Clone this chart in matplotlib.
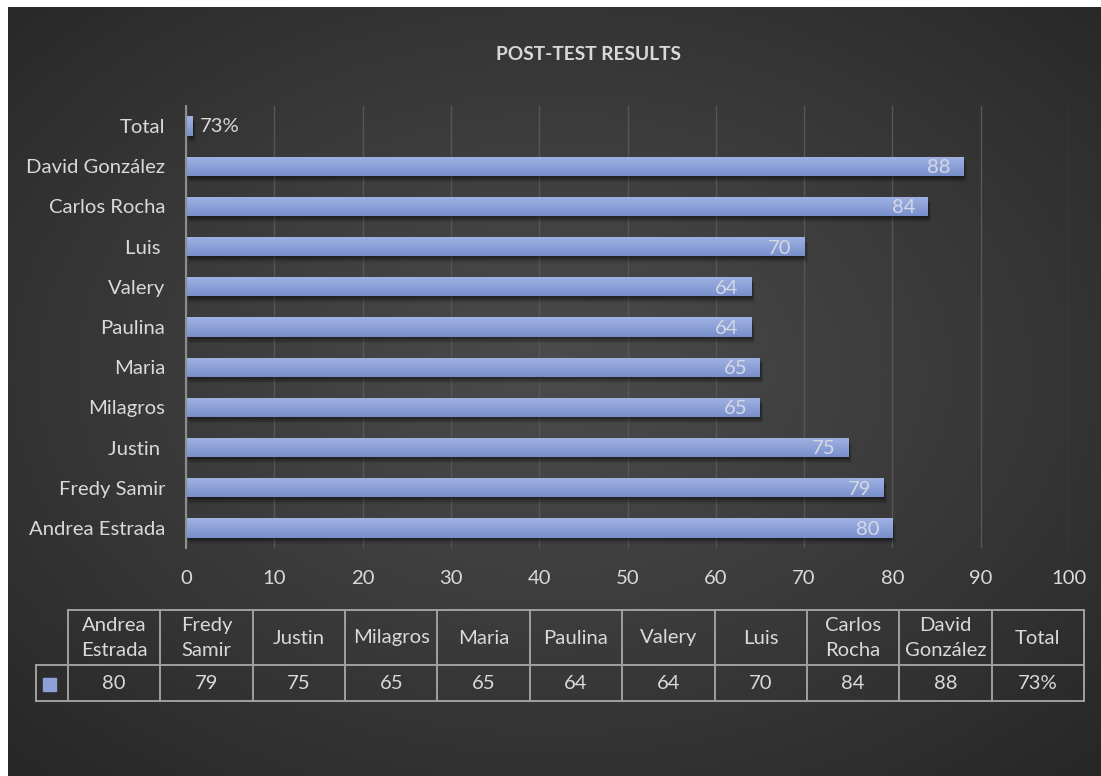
import numpy as np
import matplotlib
matplotlib.use("Agg")
import matplotlib.pyplot as plt
from matplotlib import patheffects as pe
from matplotlib.patches import Rectangle
from matplotlib.lines import Line2D

# ---- data -------------------------------------------------------------
axis_labels = ["Andrea Estrada", "Fredy Samir", "Justin ", "Milagros", "Maria",
               "Paulina", "Valery", "Luis ", "Carlos Rocha", "David González", "Total"]
table_headers = ["Andrea\nEstrada", "Fredy\nSamir", "Justin", "Milagros", "Maria",
                 "Paulina", "Valery", "Luis", "Carlos\nRocha", "David\nGonzález", "Total"]
scores = [80, 79, 75, 65, 65, 64, 64, 70, 84, 88, 0.73]
is_share = [False] * 10 + [True]
x_ticks = list(range(0, 101, 10))
title = "POST-TEST RESULTS"


def fmt(v, share):
    return f"{v:.0%}" if share else f"{v:g}"


value_labels = [fmt(v, s) for v, s in zip(scores, is_share)]

# ---- style ------------------------------------------------------------
FONT = ["Lato", "DejaVu Sans"]
plt.rcParams["font.family"] = FONT
TXT = "#d9d9d9"
BAR_TOP = np.array([0xa1, 0xb3, 0xe3]) / 255
BAR_BOT = np.array([0x79, 0x8f, 0xcc]) / 255
FS = 14.6

W, H = 1101, 776
fig = plt.figure(figsize=(W / 100, H / 100), dpi=100, facecolor="white")

# dark radial-gradient backdrop
bg = fig.add_axes([8 / W, 0, (W - 8) / W, (H - 7) / H], zorder=0)
gx, gy = np.meshgrid(np.linspace(-1, 1, 400), np.linspace(-1, 1, 300))
r = np.clip(np.sqrt((gx / 1.05) ** 2 + ((gy + 0.05) / 1.05) ** 2), 0, 1.4) / 1.4
lum = (0x4b - (0x4b - 0x26) * r ** 1.1) / 255
bg.imshow(np.dstack([lum, lum, lum]), extent=[0, 1, 0, 1], aspect="auto", interpolation="bicubic")
bg.set_axis_off()

# ---- bar chart ----------------------------------------------------------
ax = fig.add_axes([186 / W, 1 - 548 / H, 883 / W, 442 / H], zorder=2)
ax.set_facecolor("none")
ypos = np.arange(len(scores))
bars = ax.barh(ypos, scores, height=0.48, color=tuple((BAR_TOP + BAR_BOT) / 2), zorder=3)

grad = np.linspace(0, 1, 64)[:, None, None]
grad_img = BAR_TOP * (1 - grad) + BAR_BOT * grad
grad_img = np.repeat(grad_img, 2, axis=1)
soft_shadow = [pe.SimplePatchShadow(offset=(dx, -dy), shadow_rgbFace="black", alpha=0.09)
               for dx, dy in [(0.5, 1), (1, 2), (1.5, 3), (2, 3.5), (2.5, 4.5), (1, 1.5)]]
for b in bars:
    b.set_path_effects(soft_shadow + [pe.Normal()])
    x0, y0, w, h = b.get_x(), b.get_y(), b.get_width(), b.get_height()
    im = ax.imshow(grad_img, extent=(x0, x0 + w, y0, y0 + h), origin="upper",
                   aspect="auto", zorder=3.5, interpolation="bilinear")
    im.set_clip_path(b)

for y, v, lab, share in zip(ypos, scores, value_labels, is_share):
    if share:
        ax.annotate(lab, (v, y), xytext=(5, -0.5), textcoords="offset points",
                    ha="left", va="center", color=TXT, fontsize=FS, zorder=5)
    else:
        ax.annotate(lab, (v, y), xytext=(-9, -1), textcoords="offset points",
                    ha="right", va="center", color="#d4d8e2", fontsize=FS, zorder=5)

ax.set_xlim(0, 100)
ax.set_ylim(-0.5, len(scores) - 0.5)
ax.set_xticks(x_ticks)
ax.set_yticks(ypos, axis_labels)
ax.tick_params(length=0, labelcolor=TXT, labelsize=FS)
ax.tick_params(axis="x", pad=15.5)
ax.tick_params(axis="y", pad=15)
ax.grid(axis="x", color="#565656", lw=1.0, zorder=1)
for s in ("top", "right", "bottom"):
    ax.spines[s].set_visible(False)
ax.spines["left"].set_color("#8e8e8e")
ax.spines["left"].set_linewidth(1.5)
ax.spines["left"].set_zorder(4)

fig.text(588 / W, 1 - 55 / H, title, ha="center", va="center", fontsize=13.8,
         fontweight="bold", color=TXT)

# ---- data table -------------------------------------------------------------
tab = fig.add_axes([0, 0, 1, 1], zorder=3)
tab.set_xlim(0, W)
tab.set_ylim(H, 0)
tab.set_axis_off()
tab.patch.set_visible(False)

LC, LW = "#a0a0a0", 1.4
key_l, col_l, col_r = 36, 68, 1084
row_t, row_m, row_b = 610, 665, 701
ncol = len(table_headers)
cw = (col_r - col_l) / ncol
segs = [((col_l, row_t), (col_r, row_t)),
        ((key_l, row_m), (col_r, row_m)),
        ((key_l, row_b), (col_r, row_b)),
        ((key_l, row_m), (key_l, row_b))]
for k in range(ncol + 1):
    x = col_l + k * cw
    segs.append(((x, row_t), (x, row_b)))
for (xa, ya), (xb, yb) in segs:
    tab.add_line(Line2D([xa, xb], [ya, yb], color=LC, lw=LW, solid_capstyle="projecting"))

for k, (hd, lab) in enumerate(zip(table_headers, value_labels)):
    cx = col_l + (k + 0.5) * cw
    tab.text(cx, (row_t + row_m) / 2 + 0.5, hd, ha="center", va="center", color=TXT,
             fontsize=FS, linespacing=1.55)
    tab.text(cx, (row_m + row_b) / 2 + 0.5, lab, ha="center", va="center", color=TXT,
             fontsize=FS)

tab.add_patch(Rectangle((43, 678), 13, 13, color=tuple((BAR_TOP + BAR_BOT) / 2)))

fig.savefig("out.png", dpi=100, facecolor=fig.get_facecolor())
